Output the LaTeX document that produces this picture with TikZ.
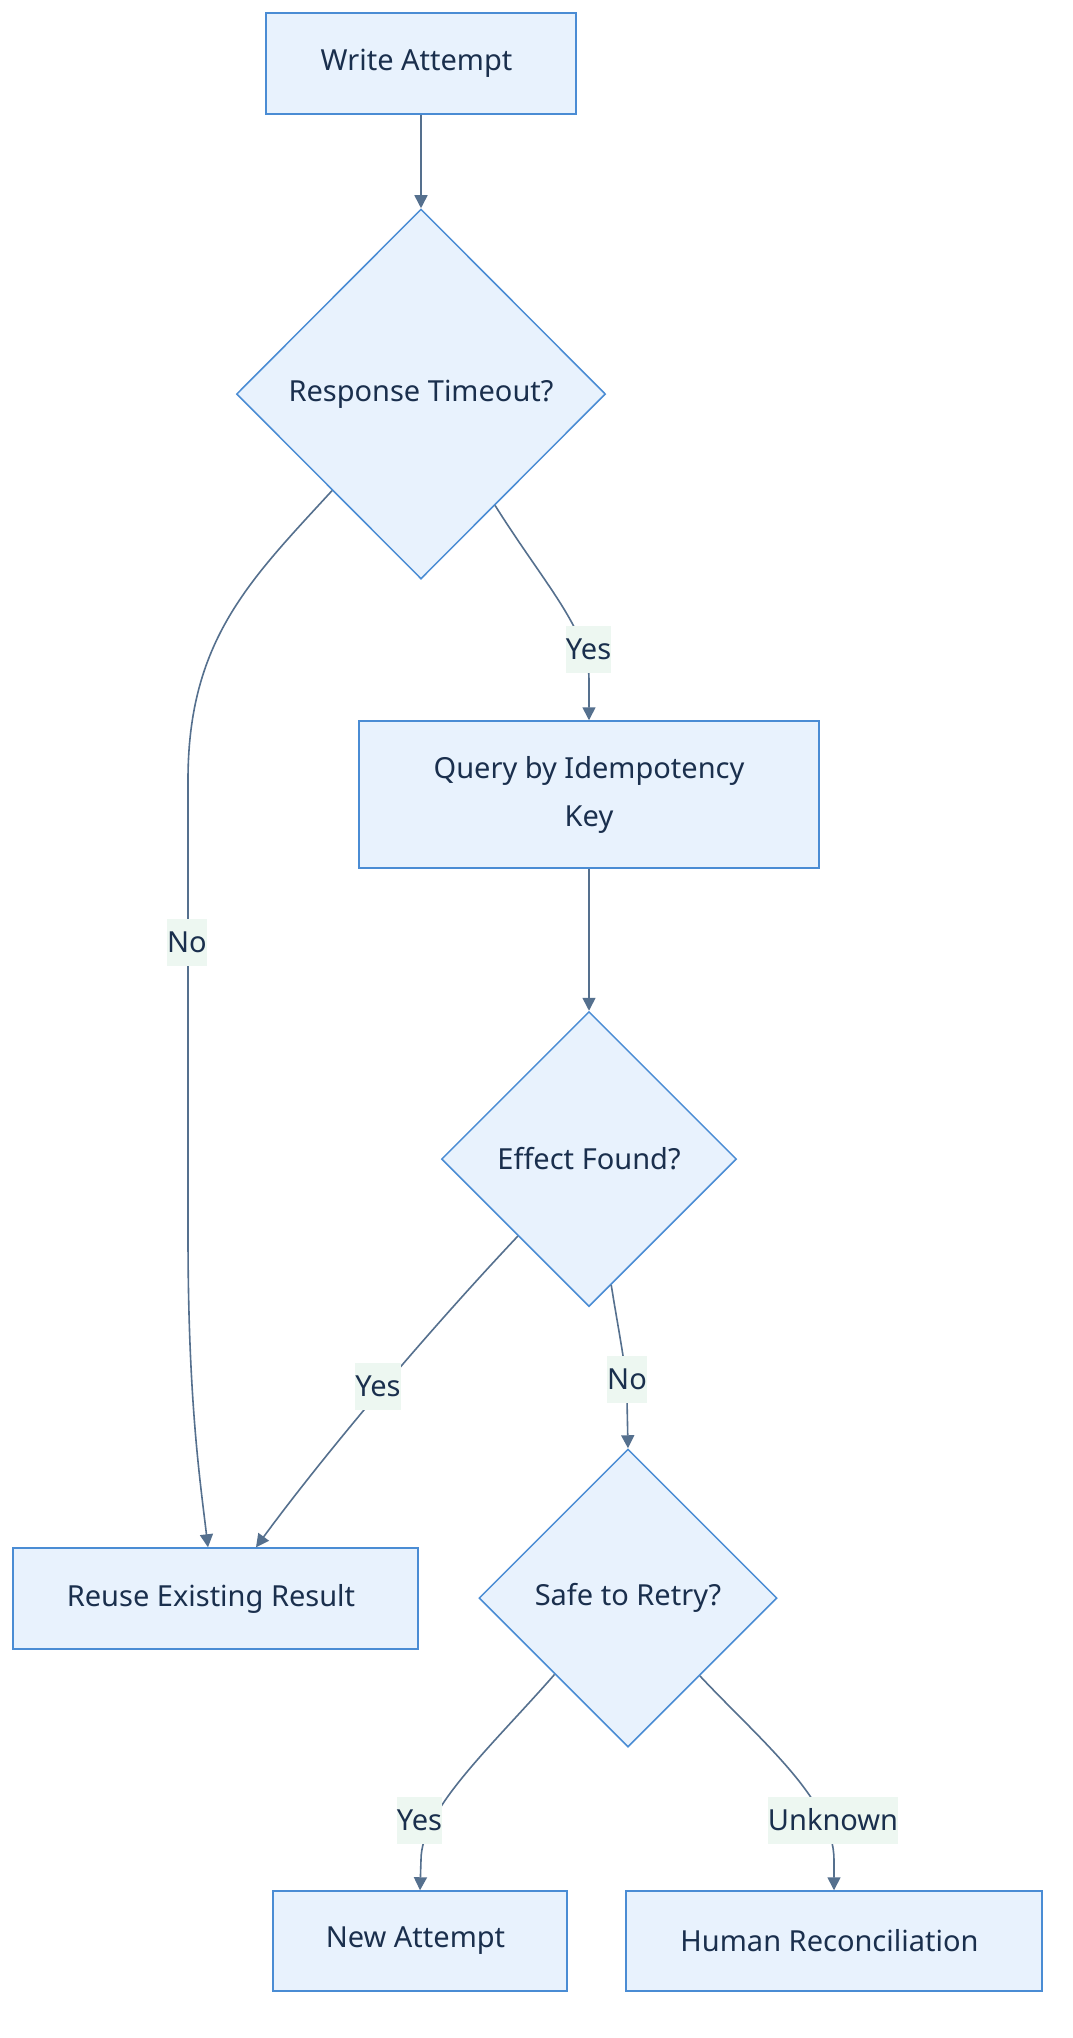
\documentclass[tikz,border=0pt]{standalone}
\usepackage{fontspec}
\setmainfont{Noto Sans}
\usetikzlibrary{shapes.geometric,arrows.meta,calc}
\definecolor{nodefill}{HTML}{E8F2FD}
\definecolor{nodeline}{HTML}{4A8CD4}
\definecolor{txt}{HTML}{1A2F4D}
\definecolor{edgecol}{HTML}{55708E}
\definecolor{lblfill}{HTML}{EDF7F1}
\newcommand{\trail}{\hspace{9pt}}
\tikzset{
  lab/.style={font=\fontsize{29}{48}\selectfont, text=txt},
  box/.style={lab, draw=nodeline, fill=nodefill, line width=1.5pt, inner sep=0pt, align=center},
  dia/.style={lab, diamond, aspect=1, draw=nodeline, fill=nodefill, line width=1.5pt, inner sep=0pt},
  lbl/.style={lab, fill=lblfill, inner xsep=0pt, inner ysep=0pt, minimum height=47pt},
  conn/.style={draw=edgecol, line width=1.6pt, -{Triangle[length=13pt,width=13pt]}},
}
\begin{document}
\begin{tikzpicture}[x=1pt,y=-1pt]
\useasboundingbox[fill=white] (0,0) rectangle (1072,2038);
% nodes
\node[box, minimum width=310pt, minimum height=101pt] (w) at (421,63.5) {Write Attempt\trail};
\node[dia, minimum width=369pt, minimum height=370pt] (r) at (421,394) {Response Timeout?\trail};
\node[box, minimum width=460pt, minimum height=147pt] (q) at (589,794.5) {Query by Idempotency\\Key};
\node[dia, minimum width=295pt, minimum height=295pt] (e) at (589,1159) {Effect Found?\trail};
\node[box, minimum width=405pt, minimum height=101pt] (u) at (215.5,1598.5) {Reuse Existing Result\trail};
\node[dia, minimum width=298pt, minimum height=298pt] (s) at (628,1598) {Safe to Retry?\trail};
\node[box, minimum width=294pt, minimum height=100pt] (n) at (420,1941) {New Attempt\trail};
\node[box, minimum width=416pt, minimum height=100pt] (h) at (834,1941) {Human Reconciliation\trail};
% border points
\coordinate (r1) at ($(r.east)!0.6!(r.south)$);
\coordinate (r2) at ($(r.west)!0.52!(r.south)$);
\coordinate (e1) at ($(e.west)!0.52!(e.south)$);
\coordinate (e2) at ($(e.south)!0.15!(e.east)$);
\coordinate (s1) at ($(s.west)!0.51!(s.south)$);
\coordinate (s2) at ($(s.south)!0.48!(s.east)$);
\coordinate (u1) at ($(u.north)+(-7.5,0)$);
\coordinate (u2) at ($(u.north)+(40.5,0)$);
% connectors
\draw[conn] (w) -- (r);
\draw[conn] (r1) .. controls (545,585) and (589,630) .. (589,680) -- (q.north);
\draw[conn] (r2) .. controls (250,580) and (188,640) .. (188,780) -- (188,1234) .. controls (188,1400) and (200,1480) .. (u1);
\draw[conn] (q) -- (e);
\draw[conn] (e1) .. controls (420,1340) and (320,1460) .. (u2);
\draw[conn] (e2) .. controls (620,1340) and (627,1370) .. (627,1400) -- (s.north);
\draw[conn] (s1) .. controls (490,1748) and (421,1810) .. (421,1860) -- (n.north);
\draw[conn] (s2) .. controls (760,1740) and (834,1800) .. (834,1860) -- (h.north);
% edge labels
\node[lbl] (l1) at (588.5,649.5) {Yes};
\node[lbl] (l2) at (187,942) {No};
\node[lbl] (l3) at (378,1386) {Yes};
\node[lbl] (l4) at (627,1379) {No};
\node[lbl] (l5) at (419.5,1820) {Yes};
\node[lbl] (l6) at (833,1820) {Unknown};
\end{tikzpicture}
\end{document}
